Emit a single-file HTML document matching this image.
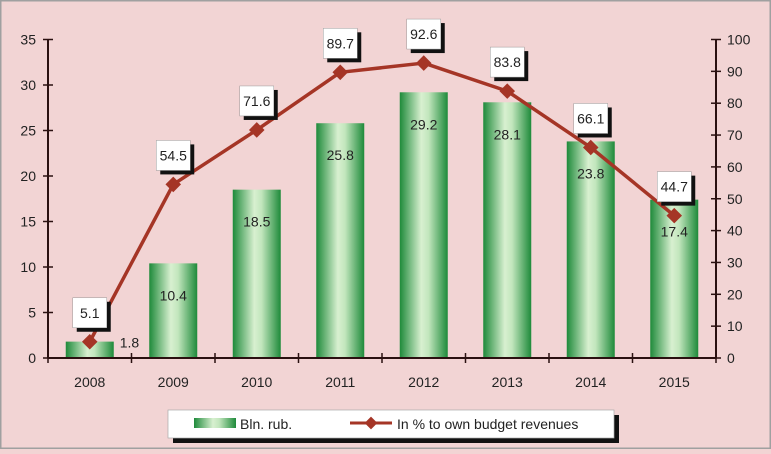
<!DOCTYPE html>
<html><head><meta charset="utf-8"><style>
html,body{margin:0;padding:0;}
body{width:771px;height:449px;overflow:hidden;background:#f2d4d4;font-family:"Liberation Sans",sans-serif;}
svg text{font-family:"Liberation Sans",sans-serif;}
</style></head><body>
<svg width="771" height="449" xmlns="http://www.w3.org/2000/svg">
<defs>
<linearGradient id="bg" x1="0" x2="1" y1="0" y2="0">
<stop offset="0" stop-color="#1e8a3a"/><stop offset="0.45" stop-color="#d8f0d0"/><stop offset="0.6" stop-color="#c2e6bd"/><stop offset="1" stop-color="#1e8a3a"/>
</linearGradient>
</defs>
<rect x="0.5" y="0.5" width="770" height="448" fill="#f2d4d4" stroke="#a0a0a0" stroke-width="2"/>
<g id="plot"></g>
</svg>
<script>
const years=["2008","2009","2010","2011","2012","2013","2014","2015"];
const blnRub=[1.8,10.4,18.5,25.8,29.2,28.1,23.8,17.4];
const pctRevenue=[5.1,54.5,71.6,89.7,92.6,83.8,66.1,44.7];
const leftTicks=[0,5,10,15,20,25,30,35];
const rightTicks=[0,10,20,30,40,50,60,70,80,90,100];

const NS="http://www.w3.org/2000/svg";
const g=document.getElementById('plot');
const X0=48,X1=716,Y0=358,Y1=39.5;
const band=(X1-X0)/years.length;
const xc=i=>X0+band*(i+0.5);
const yL=v=>Y0-(v/35)*(Y0-Y1);
const yR=v=>Y0-(v/100)*(Y0-Y1);
function mk(t,a,txt){const e=document.createElementNS(NS,t);for(const k in a)e.setAttribute(k,a[k]);if(txt!=null)e.textContent=txt;g.appendChild(e);return e;}

// bars
blnRub.forEach((v,i)=>{
 const bw=48;
 const b=mk('rect',{x:xc(i)-bw/2,y:yL(v),width:bw,height:Y0-yL(v),fill:'url(#bg)'});
 
 
});
// axes
let a=mk('line',{x1:X0,y1:Y1,x2:X0,y2:Y0,stroke:'#2a1010','stroke-width':2});

a=mk('line',{x1:X1,y1:Y1,x2:X1,y2:Y0,stroke:'#2a1010','stroke-width':2});

a=mk('line',{x1:X0,y1:Y0,x2:X1,y2:Y0,stroke:'#2a1010','stroke-width':2});

leftTicks.forEach(v=>{
 mk('line',{x1:X0-5,x2:X0+5,y1:yL(v),y2:yL(v),stroke:'#2a1010','stroke-width':1.5});
 const t=mk('text',{x:X0-12,y:yL(v)+5,'text-anchor':'end','font-size':14,fill:'#222'},v);
 
});
rightTicks.forEach(v=>{
 mk('line',{x1:X1-5,x2:X1+5,y1:yR(v),y2:yR(v),stroke:'#2a1010','stroke-width':1.5});
 const t=mk('text',{x:X1+11,y:yR(v)+5,'text-anchor':'start','font-size':14,fill:'#222'},v);
 
});
for(let i=0;i<=years.length;i++){mk('line',{x1:X0+band*i,x2:X0+band*i,y1:Y0-5,y2:Y0+5,stroke:'#2a1010','stroke-width':1.5});}
years.forEach((y,i)=>{
 const t=mk('text',{x:xc(i),y:Y0+29,'text-anchor':'middle','font-size':14,fill:'#222'},y);
 
});
// bar value labels
blnRub.forEach((v,i)=>{
 let x=xc(i),y=yL(v)+37,anc='middle';
 if(v<5){x=xc(i)+30;y=yL(v)+6;anc='start';}
 const t=mk('text',{x:x,y:y,'text-anchor':anc,'font-size':14,fill:'#222'},v.toFixed(1));
 
});
// line
const pts=pctRevenue.map((v,i)=>xc(i)+','+yR(v)).join(' ');
const ln=mk('polyline',{points:pts,fill:'none',stroke:'#a53526','stroke-width':3.5,'stroke-linejoin':'round'});

pctRevenue.forEach((v,i)=>{
 const x=xc(i),y=yR(v);
 const m=mk('rect',{x:x-5.5,y:y-5.5,width:11,height:11,fill:'#a53526',transform:`rotate(45 ${x} ${y})`});
 
 const bx=x-17,by=y-44;
 mk('rect',{x:bx+4,y:by+4,width:34,height:30,fill:'#111'});
 const bb=mk('rect',{x:bx,y:by,width:34,height:30,fill:'#fff',stroke:'#999','stroke-width':0.5});
 
 const t=mk('text',{x:x,y:by+20,'text-anchor':'middle','font-size':14,fill:'#222'},v.toFixed(1));
 
});
// legend
mk('rect',{x:173,y:415,width:446,height:28,fill:'#111'});
const lg=mk('rect',{x:168,y:410,width:446,height:28,fill:'#fff',stroke:'#aaa','stroke-width':0.7});

let s=mk('rect',{x:194,y:418,width:42,height:10,fill:'url(#bg)'});

let lt=mk('text',{x:240,y:429,'font-size':14,fill:'#222'},'Bln. rub.');

mk('line',{x1:350,x2:392,y1:423,y2:423,stroke:'#a53526','stroke-width':3});
s=mk('rect',{x:366.5,y:418.5,width:9,height:9,fill:'#a53526',transform:'rotate(45 371 423)'});

lt=mk('text',{x:397,y:429,'font-size':14,fill:'#222'},'In % to own budget revenues');

</script>
</body></html>
